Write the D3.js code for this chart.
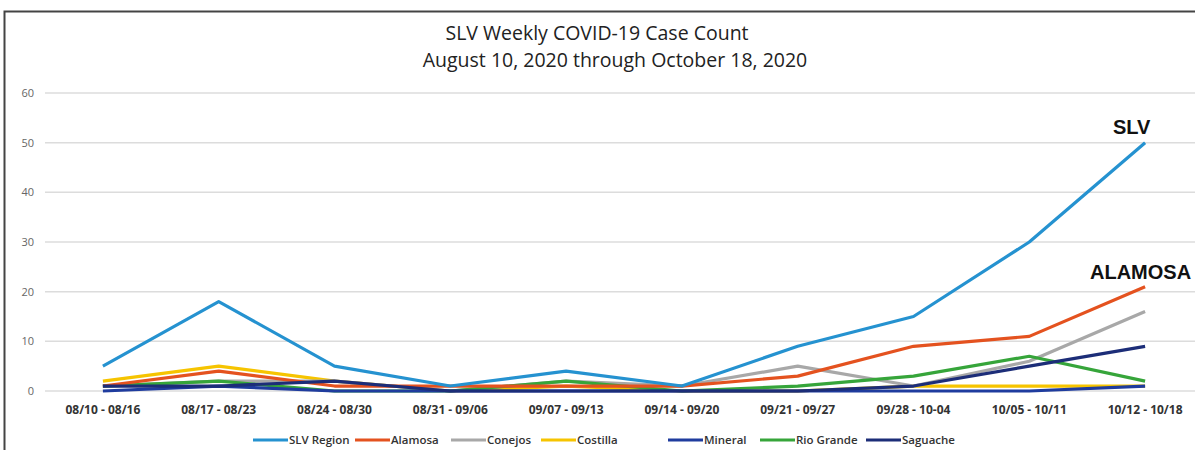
<!DOCTYPE html>
<html>
<head>
<meta charset="utf-8">
<script src="https://cdn.jsdelivr.net/npm/d3@7"></script>
<style>
  body { margin: 0; background: #fff; }
  svg { display: block; }
</style>
</head>
<body>
<script>

// Weekly buckets
const weeks = ["08/10 - 08/16", "08/17 - 08/23", "08/24 - 08/30", "08/31 - 09/06", "09/07 - 09/13",
               "09/14 - 09/20", "09/21 - 09/27", "09/28 - 10-04", "10/05 - 10/11", "10/12 - 10/18"]

// Case counts per series
const slvRegion = [5, 18, 5, 1, 4, 1, 9, 15, 30, 50]
const alamosa   = [1, 4, 1, 1, 1, 1, 3, 9, 11, 21]
const conejos   = [1, 2, 2, 0, 2, 1, 5, 1, 6, 16]
const costilla  = [2, 5, 2, 0, 1, 0, 0, 1, 1, 1]
const mineral   = [0, 1, 0, 0, 0, 0, 0, 0, 0, 1]
const rioGrande = [1, 2, 0, 0, 2, 0, 1, 3, 7, 2]
const saguache  = [1, 1, 2, 0, 0, 0, 0, 1, 5, 9]

const yTicks = [0, 10, 20, 30, 40, 50, 60]

const series = [
    {name: "SLV Region", values: slvRegion, color: "#2592d0"},
    {name: "Alamosa",    values: alamosa,   color: "#e4521f"},
    {name: "Conejos",    values: conejos,   color: "#a8a8a8"},
    {name: "Costilla",   values: costilla,  color: "#f6c400"},
    {name: "Mineral",    values: mineral,   color: "#1f3c9e"},
    {name: "Rio Grande", values: rioGrande, color: "#36a53a"},
    {name: "Saguache",   values: saguache,  color: "#1c2d78"}
]

// draw order: lighter lines under, blues on top like the original
const drawOrder = ["Costilla", "Conejos", "Rio Grande", "Alamosa", "Mineral", "Saguache", "SLV Region"]

let width = 1195
let height = 450

const svg = d3.select("body")
    .append("svg")
    .attr("width", width)
    .attr("height", height)

svg.append("rect")
    .attr("width", width)
    .attr("height", height)
    .style("fill", "#fff")

// frame (only top and left edges are visible in the crop)
svg.append("path")
    .attr("d", "M4.5,450 V11.5 H1195")
    .style("fill", "none")
    .style("stroke", "#444")
    .style("stroke-width", 2)

const x = d3.scalePoint()
    .domain(weeks)
    .range([45, 1203])
    .padding(0.5)

const y = d3.scaleLinear()
    .domain([0, 60])
    .range([391, 93])

// gridlines
svg.append("g")
    .selectAll("line")
    .data(yTicks)
    .join("line")
    .attr("x1", 45)
    .attr("x2", width)
    .attr("y1", d => y(d))
    .attr("y2", d => y(d))
    .style("stroke", "#dcdcdc")
    .style("stroke-width", 1.5)

// y axis labels
svg.append("g")
    .selectAll("text")
    .data(yTicks)
    .join("text")
    .attr("x", 34)
    .attr("y", d => y(d) + 4)
    .attr("text-anchor", "end")
    .style("font-family", "Open Sans, sans-serif")
    .style("font-size", "11px")
    .style("fill", "#666")
    .text(d => d)

// x axis labels
svg.append("g")
    .selectAll("text")
    .data(weeks)
    .join("text")
    .attr("x", d => x(d))
    .attr("y", 414)
    .attr("text-anchor", "middle")
    .style("font-family", "Open Sans, sans-serif")
    .style("font-size", "12px")
    .style("font-weight", "700")
    .style("fill", "#333")
    .text(d => d)

// Title
svg.append("text")
    .attr("x", 597)
    .attr("y", 40)
    .attr("text-anchor", "middle")
    .style("font-family", "Open Sans, sans-serif")
    .style("font-size", "19.5px")
    .style("fill", "#222")
    .text("SLV Weekly COVID-19 Case Count")

svg.append("text")
    .attr("x", 615)
    .attr("y", 67)
    .attr("text-anchor", "middle")
    .style("font-family", "Open Sans, sans-serif")
    .style("font-size", "19.5px")
    .style("fill", "#222")
    .text("August 10, 2020 through October 18, 2020")

const lineFunction = d3.line()
    .x((d, i) => x(weeks[i]))
    .y(d => y(d))

svg.append("g")
    .selectAll("path")
    .data(drawOrder.map(n => series.find(s => s.name === n)))
    .join("path")
    .attr("d", d => lineFunction(d.values))
    .style("fill", "none")
    .style("stroke", d => d.color)
    .style("stroke-width", 3.2)
    .style("stroke-linejoin", "round")

// annotations
svg.append("text")
    .attr("x", 1113)
    .attr("y", 134)
    .style("font-family", "Liberation Sans, Arial, sans-serif")
    .style("font-size", "20px")
    .style("font-weight", "bold")
    .style("fill", "#111")
    .text("SLV")

svg.append("text")
    .attr("x", 1090)
    .attr("y", 279)
    .style("font-family", "Liberation Sans, Arial, sans-serif")
    .style("font-size", "20px")
    .style("font-weight", "bold")
    .style("fill", "#111")
    .text("ALAMOSA")

// legend
const legendX = [253, 355, 451, 541, 668, 760, 866]
const legend = svg.append("g")
    .selectAll("g")
    .data(series)
    .join("g")
    .attr("transform", (d, i) => `translate(${legendX[i]},440)`)

legend.append("line")
    .attr("x1", 0)
    .attr("x2", 35)
    .style("stroke", d => d.color)
    .style("stroke-width", 3)

legend.append("text")
    .attr("x", 36)
    .attr("y", 4)
    .style("font-family", "Open Sans, sans-serif")
    .style("font-size", "11.5px")
    .style("font-weight", "600")
    .style("fill", "#333")
    .text(d => d.name)

</script>
</body>
</html>
